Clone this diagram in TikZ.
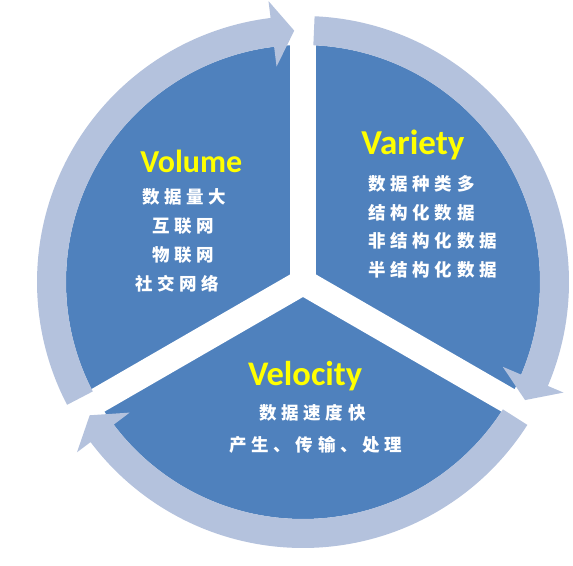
\documentclass[tikz,border=0pt]{standalone}
\usepackage{fontspec}
\newfontfamily\ttl{Carlito}
\newfontfamily\cjk{Noto Sans CJK SC}
\definecolor{disc}{HTML}{4F81BD}
\definecolor{ringc}{HTML}{B4C2DD}
\definecolor{ttlc}{HTML}{FFFF00}
\newcommand\spaced[1]{\spacedA#1\relax}
\def\spacedA#1{\ifx\relax#1\else#1\hspace{4.6pt}\expandafter\spacedA\fi}
\begin{document}
\begin{tikzpicture}[x=1pt,y=1pt,
  title/.style={anchor=base west, inner sep=0pt, text=ttlc, font=\ttl\bfseries\fontsize{#1}{#1}\selectfont},
  item/.style={anchor=west, inner sep=0pt, text=white, font=\cjk\bfseries\fontsize{17.5}{17.5}\selectfont},
  gapline/.style={draw=white, line width=26pt},
  ringseg/.style={fill=ringc, draw=none}]
\useasboundingbox (0,0) rectangle (573,565);
\coordinate (c) at (303,283);
\fill[disc] (c) circle[radius=237];
\foreach \a in {90,210,330} \draw[gapline] (c) -- ++(\a:275);
\foreach \s in {0,1,2} {
  \pgfmathsetmacro\st{207.5-120*\s}
  \pgfmathsetmacro\bk{97-120*\s}
  \pgfmathsetmacro\tp{92-120*\s}
  \fill[ringseg, shift={(c)}] (\st:266) arc[start angle=\st, end angle=\bk, radius=266]
     -- (\bk:283) -- (\tp:251.5) -- (\bk:217) -- (\bk:237)
     arc[start angle=\bk, end angle=\st, radius=237] -- cycle;
}
\node[title=32] (vol) at (140.2,392) {Volume};
\node[title=35] (var) at (361.2,410) {Variety};
\node[title=34.5] (vel) at (247.8,179) {Velocity};
\node[item] (v1) at (142,368) {\spaced{数据量大}};
\node[item] (v2) at (152,339) {\spaced{互联网}};
\node[item] (v3) at (152,310) {\spaced{物联网}};
\node[item] (v4) at (135.5,281.5) {\spaced{社交网络}};
\node[item] (a1) at (368.5,381) {\spaced{数据种类多}};
\node[item] (a2) at (368.5,352.5) {\spaced{结构化数据}};
\node[item] (a3) at (368.5,324) {\spaced{非结构化数据}};
\node[item] (a4) at (368.5,295) {\spaced{半结构化数据}};
\node[item] (e1) at (259.5,152) {\spaced{数据速度快}};
\node[item] (e2) at (229.5,120) {\spaced{产生、传输、处理}};
\end{tikzpicture}
\end{document}
